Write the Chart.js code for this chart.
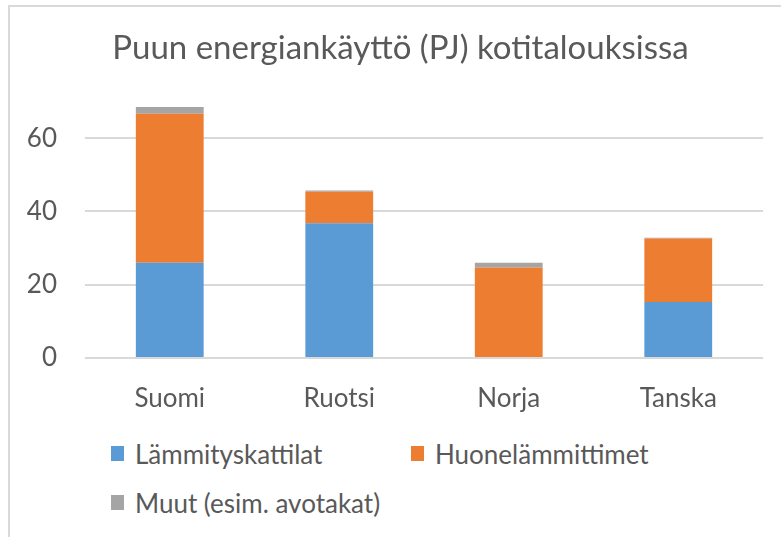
<!DOCTYPE html>
<html>
<head>
<meta charset="utf-8">
<script src="https://cdn.jsdelivr.net/npm/chart.js@4"></script>
<style>
  html, body { margin: 0; padding: 0; background: #fff; overflow: hidden; width: 781px; height: 537px; }
  #frame { position: absolute; left: 8px; top: 5px; width: 790px; height: 540px; border-left: 2px solid #d9d9d9; border-top: 2px solid #d9d9d9; }
  #wrap { position: absolute; left: 0; top: 0; width: 782px; height: 420px; }
  #legend { position: absolute; left: 101px; top: 422px; width: 640px; font-family: Lato, sans-serif; font-size: 26px; color: #595959; }
  #legend .item { display: inline-flex; align-items: center; width: 300px; height: 49px; }
  #legend .box { width: 13px; height: 15px; margin-right: 11px; }
</style>
</head>
<body>
<div id="frame">
  <div id="wrap"><canvas id="myChart"></canvas></div>
  <div id="legend"></div>
</div>
<script>
// values (PJ)
const countries = ["Suomi", "Ruotsi", "Norja", "Tanska"];
const seriesNames = ["Lämmityskattilat", "Huonelämmittimet", "Muut (esim. avotakat)"];
const boilers = [26.0, 36.8, 0, 15.3];
const roomHeaters = [40.7, 8.6, 24.7, 17.3];
const others = [1.8, 0.3, 1.3, 0.2];
const yTicks = [0, 20, 40, 60];
const colors = ["#5b9bd5", "#ed7d31", "#a5a5a5"];

const textColor = "#595959";
Chart.defaults.font.family = "Lato, sans-serif";
Chart.defaults.color = textColor;

const seriesValues = [boilers, roomHeaters, others];

// the original title is centred on the whole chart box, not the padded one
const shiftTitle = {
  id: "shiftTitle",
  afterLayout(chart) {
    chart.titleBlock.left += 28;
  },
};

new Chart("myChart", {
  type: "bar",
  data: {
    labels: countries,
    datasets: seriesValues.map((vals, i) => ({
      label: seriesNames[i],
      data: vals,
      backgroundColor: colors[i],
      borderWidth: 0,
      categoryPercentage: 1,
      barPercentage: 0.4,
    })),
  },
  plugins: [shiftTitle],
  options: {
    responsive: true,
    maintainAspectRatio: false,
    animation: false,
    layout: { padding: { left: 0, right: 29, bottom: 0, top: 0 } },
    plugins: {
      legend: { display: false },
      tooltip: { enabled: false },
      title: {
        display: true,
        text: "Puun energiankäyttö (PJ) kotitalouksissa",
        color: textColor,
        font: { size: 33, weight: "normal" },
        padding: { top: 22, bottom: 33 },
      },
    },
    scales: {
      x: {
        stacked: true,
        grid: { display: false },
        border: { display: false },
        ticks: { font: { size: 26 }, padding: 17, color: textColor },
        afterFit(scale) { scale.height = 69; },
      },
      y: {
        stacked: true,
        min: 0,
        max: 70,
        border: { display: false },
        grid: { color: "#d9d9d9", lineWidth: 2, drawTicks: false },
        ticks: { stepSize: 20, font: { size: 26 }, padding: 28, color: textColor },
        afterBuildTicks(scale) {
          scale.ticks = yTicks.map(v => ({ value: v }));
        },
        afterFit(scale) { scale.width = 75; },
      },
    },
  },
});

// legend built from the same names/colours
const legend = document.getElementById("legend");
seriesNames.forEach((name, i) => {
  const item = document.createElement("div");
  item.className = "item";
  const box = document.createElement("span");
  box.className = "box";
  box.style.background = colors[i];
  item.appendChild(box);
  item.appendChild(document.createTextNode(name));
  legend.appendChild(item);
});
</script>
</body>
</html>
